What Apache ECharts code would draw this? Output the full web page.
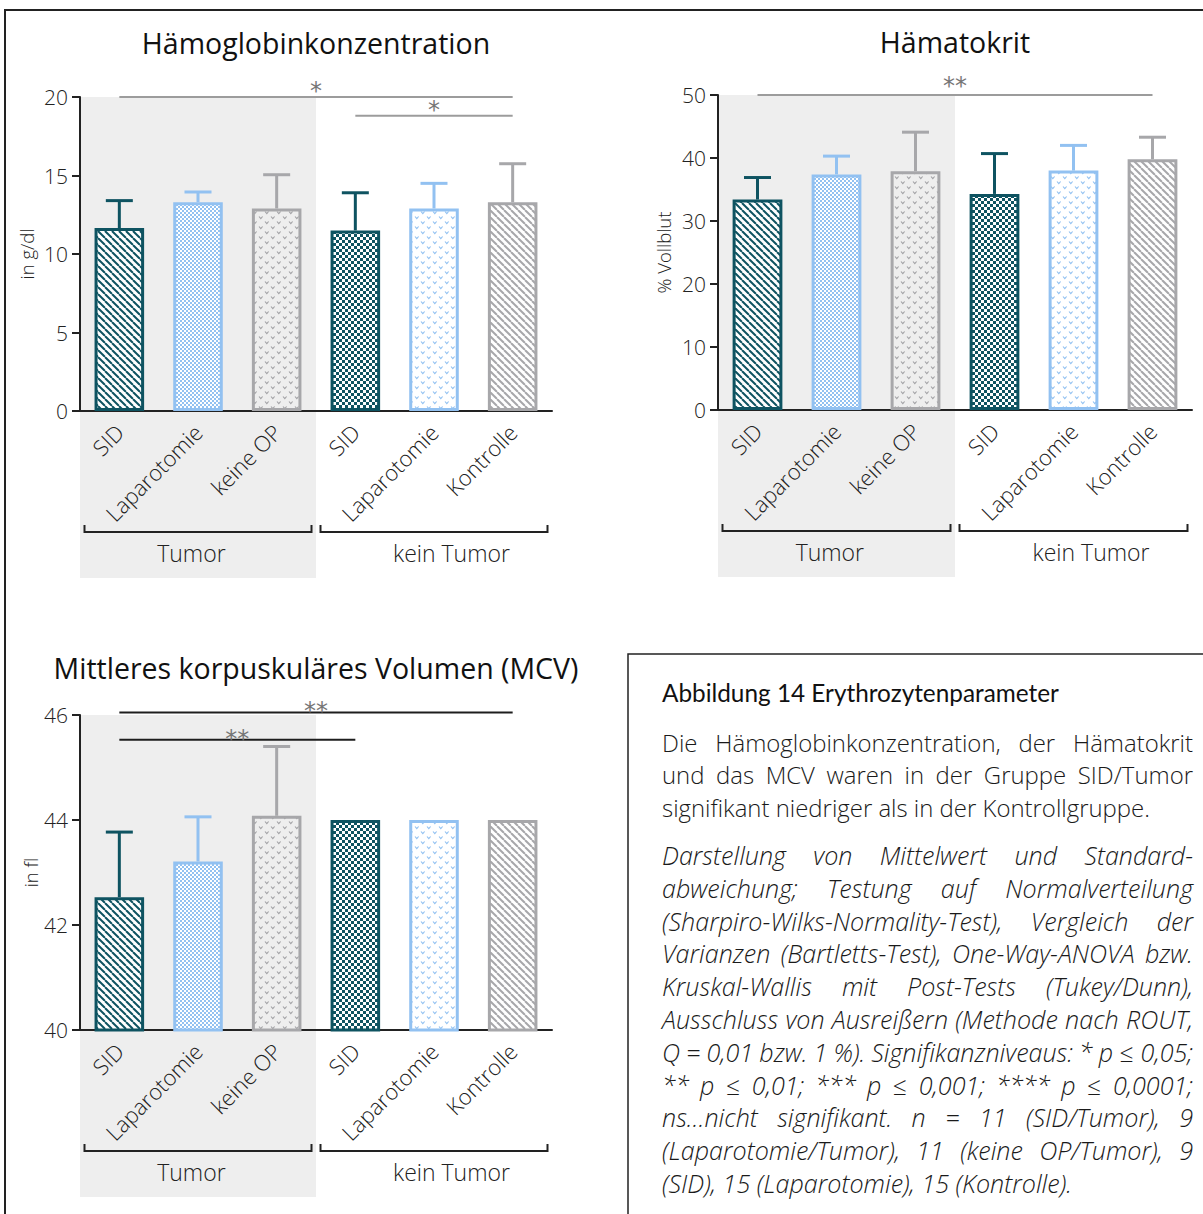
<!DOCTYPE html>
<html lang="de">
<head>
<meta charset="utf-8">
<title>Erythrozytenparameter</title>
<script src="https://cdn.jsdelivr.net/npm/echarts@6.0.0/dist/echarts.min.js"></script>
<style>
  html, body { margin: 0; padding: 0; background: #fff; }
  #chart { width: 1203px; height: 1214px; }
</style>
</head>
<body>
<div id="chart"></div>
<script>
// ---------- Daten ----------
const categories = ['SID', 'Laparotomie', 'keine OP', 'SID', 'Laparotomie', 'Kontrolle'];
const groups = ['Tumor', 'kein Tumor'];

// Hämoglobinkonzentration in g/dl (Mittelwert, Standardabweichung)
const hbMean = [11.65, 13.3, 12.9, 11.5, 12.9, 13.3];
const hbSD   = [1.75, 0.65, 2.15, 2.4, 1.6, 2.45];
const hbTicks = [0, 5, 10, 15, 20];

// Hämatokrit in % Vollblut
const hctMean = [33.4, 37.4, 37.9, 34.3, 38.0, 39.8];
const hctSD   = [3.5, 2.9, 6.2, 6.4, 4.0, 3.5];
const hctTicks = [0, 10, 20, 30, 40, 50];

// MCV in fl
const mcvMean = [42.53, 43.21, 44.08, 44.0, 44.0, 44.0];
const mcvSD   = [1.24, 0.85, 1.32, null, null, null];
const mcvTicks = [40, 42, 44, 46];

// Signifikanzbalken: [von Kategorie, bis Kategorie, Höhe, Kennzeichnung]
const hbSig  = [[0, 5, 20, '*'], [3, 5, 18.8, '*']];
const hctSig = [[0, 5, 50, '**']];
const mcvSig = [[0, 5, 46.05, '**'], [0, 3, 45.53, '**']];

// Bildunterschrift
const captionTitle = 'Abbildung 14 Erythrozytenparameter';
const captionSummary = [
  'Die Hämoglobinkonzentration, der Hämatokrit',
  'und das MCV waren in der Gruppe SID/Tumor',
  'signifikant niedriger als in der Kontrollgruppe.'
];
const captionMethods = [
  'Darstellung von Mittelwert und Standard-',
  'abweichung; Testung auf Normalverteilung',
  '(Sharpiro-Wilks-Normality-Test), Vergleich der',
  'Varianzen (Bartletts-Test), One-Way-ANOVA bzw.',
  'Kruskal-Wallis mit Post-Tests (Tukey/Dunn),',
  'Ausschluss von Ausreißern (Methode nach ROUT,',
  'Q = 0,01 bzw. 1 %). Signifikanzniveaus: * p ≤ 0,05;',
  '** p ≤ 0,01; *** p ≤ 0,001; **** p ≤ 0,0001;',
  'ns…nicht signifikant. n = 11 (SID/Tumor), 9',
  '(Laparotomie/Tumor), 11 (keine OP/Tumor), 9',
  '(SID), 15 (Laparotomie), 15 (Kontrolle).'
];

// ---------- Farben und Füllmuster ----------
const TEAL = '#0e5361';
const BLUE = '#92c1f1';
const GREY = '#a7a7aa';
const INK = '#222222';
const FONT = "'Open Sans', 'Noto Sans', sans-serif";

function tile(w, h, bg) {
  const c = document.createElement('canvas');
  c.width = w; c.height = h;
  const g = c.getContext('2d');
  if (bg) { g.fillStyle = bg; g.fillRect(0, 0, w, h); }
  return [c, g];
}
function pattern(c) {
  return { image: c, repeat: 'repeat', imageWidth: c.width, imageHeight: c.height };
}
// diagonale Schraffur (von links oben nach rechts unten)
function hatch(color, period, lw) {
  const [c, g] = tile(period, period, '#ffffff');
  g.strokeStyle = color; g.lineWidth = lw;
  [-period, 0, period].forEach(o => {
    g.beginPath(); g.moveTo(o, 0); g.lineTo(o + period, period); g.stroke();
  });
  return pattern(c);
}
// Schachbrett
function checker(color, cell, bg) {
  const [c, g] = tile(cell * 2, cell * 2, bg);
  g.fillStyle = color;
  g.fillRect(0, 0, cell, cell);
  g.fillRect(cell, cell, cell, cell);
  return pattern(c);
}
// kleine v-Zeichen, versetzt
function vmarks(color, bg) {
  const [c, g] = tile(12, 10, bg);
  g.strokeStyle = color; g.lineWidth = 1.1;
  [[1, 1.5], [7, 6.5]].forEach(([x, y]) => {
    g.beginPath(); g.moveTo(x, y); g.lineTo(x + 1.8, y + 2.2); g.lineTo(x + 3.6, y); g.stroke();
  });
  return pattern(c);
}

const barColors = [TEAL, BLUE, GREY, TEAL, BLUE, GREY];
const barFills = [
  hatch(TEAL, 7, 2),
  checker(BLUE, 2, '#ffffff'),
  vmarks('#a3a3a6', null),
  checker(TEAL, 3, '#ffffff'),
  vmarks(BLUE, null),
  hatch(GREY, 7, 2)
];

// ---------- Aufbau der drei Diagramme ----------
const panels = [
  { title: 'Hämoglobinkonzentration', unit: 'in g/dl', mean: hbMean, sd: hbSD, ticks: hbTicks, sig: hbSig,
    grid: { left: 80, top: 97, width: 472, height: 314 }, titleY: 43, nameGap: 44,
    sigColor: '#9c9c9c', starLift: 6 },
  { title: 'Hämatokrit', unit: '% Vollblut', mean: hctMean, sd: hctSD, ticks: hctTicks, sig: hctSig,
    grid: { left: 718, top: 95, width: 474, height: 315 }, titleY: 42, nameGap: 45,
    sigColor: '#9c9c9c', starLift: 9 },
  { title: 'Mittleres korpuskuläres Volumen (MCV)', unit: 'in fl', mean: mcvMean, sd: mcvSD, ticks: mcvTicks, sig: mcvSig,
    grid: { left: 80, top: 715, width: 472, height: 315 }, titleY: 668, nameGap: 40,
    sigColor: '#1e1e1e', starLift: 1 }
];

const option = {
  animation: false,
  backgroundColor: '#ffffff',
  grid: [], xAxis: [], yAxis: [], series: [], graphic: []
};

panels.forEach((p, i) => {
  const G = p.grid;
  const bottom = G.top + G.height;
  option.grid.push(Object.assign({ containLabel: false }, G));

  option.xAxis.push({
    type: 'category', gridIndex: i, data: categories,
    axisLine: { onZero: false, lineStyle: { color: INK, width: 2 } },
    axisTick: { alignWithLabel: true, length: 8, lineStyle: { color: INK, width: 2 } },
    axisLabel: { interval: 0, rotate: 45, margin: 17, fontSize: 22, fontWeight: 300,
                 fontFamily: FONT, color: INK, hideOverlap: false },
    splitLine: { show: false }
  });

  const tmin = p.ticks[0], tmax = p.ticks[p.ticks.length - 1];
  option.yAxis.push({
    type: 'value', gridIndex: i, min: tmin, max: tmax, interval: p.ticks[1] - p.ticks[0],
    name: p.unit, nameLocation: 'middle', nameGap: p.nameGap, nameRotate: 90,
    nameTextStyle: { fontSize: 18.5, fontWeight: 300, fontFamily: FONT, color: INK },
    axisLine: { show: true, lineStyle: { color: INK, width: 2 } },
    axisTick: { show: true, length: 8, lineStyle: { color: INK, width: 2 } },
    axisLabel: { margin: 12, fontSize: 21, fontWeight: 300, fontFamily: FONT, color: INK },
    splitLine: { show: false }
  });

  // Balken (Mittelwerte)
  option.series.push({
    type: 'bar', xAxisIndex: i, yAxisIndex: i, barWidth: '63%', z: 3,
    data: p.mean.map((v, k) => ({
      value: v,
      itemStyle: { color: barFills[k], borderColor: barColors[k], borderWidth: 3 }
    }))
  });

  // Fehlerbalken (nur nach oben: Mittelwert + SD)
  option.series.push({
    type: 'custom', xAxisIndex: i, yAxisIndex: i, z: 4,
    encode: { x: 0, y: [1, 2] },
    data: p.mean.map((v, k) => p.sd[k] == null ? null : [k, v, v + p.sd[k]]).filter(d => d),
    renderItem: (params, api) => {
      const k = api.value(0);
      const a = api.coord([k, api.value(1)]);
      const b = api.coord([k, api.value(2)]);
      const col = barColors[k];
      const half = 13.5;
      return { type: 'group', children: [
        { type: 'line', shape: { x1: a[0], y1: a[1], x2: b[0], y2: b[1] }, style: { stroke: col, lineWidth: 3 } },
        { type: 'line', shape: { x1: b[0] - half, y1: b[1], x2: b[0] + half, y2: b[1] }, style: { stroke: col, lineWidth: 3 } }
      ] };
    }
  });

  // Signifikanzbalken mit Sternchen
  option.series.push({
    type: 'custom', xAxisIndex: i, yAxisIndex: i, z: 5, clip: false,
    encode: { x: [0, 1], y: 2 },
    data: p.sig.map(s => [s[0], s[1], s[2]]),
    renderItem: (params, api) => {
      const a = api.coord([api.value(0), api.value(2)]);
      const b = api.coord([api.value(1), api.value(2)]);
      const mark = p.sig[params.dataIndex][3];
      return { type: 'group', children: [
        { type: 'line', shape: { x1: a[0], y1: a[1], x2: b[0], y2: b[1] },
          style: { stroke: p.sigColor, lineWidth: 2 } },
        { type: 'text', x: (a[0] + b[0]) / 2, y: a[1] - p.starLift,
          style: { text: mark, fill: '#767676', fontSize: 24, fontFamily: "'DejaVu Sans', sans-serif",
                   align: 'center', verticalAlign: 'middle', textAlign: 'center', textVerticalAlign: 'middle' } }
      ] };
    }
  });

  // grau hinterlegter Bereich "Tumor"
  option.graphic.push({
    type: 'rect', z: -10, silent: true,
    shape: { x: G.left, y: G.top, width: G.width / 2, height: bottom - G.top + 167 },
    style: { fill: '#eeeeee' }
  });

  // Titel
  option.graphic.push({
    type: 'text', x: G.left + G.width / 2, y: p.titleY, z: 10,
    style: { text: p.title, fill: '#111111', fontSize: 28.5, fontFamily: FONT,
             align: 'center', verticalAlign: 'middle', textAlign: 'center', textVerticalAlign: 'middle' }
  });

  // Gruppenklammern und -beschriftung
  const by = bottom + 121;
  const labelPos = [0.236, 0.787];
  groups.forEach((name, h) => {
    const x0 = G.left + h * G.width / 2 + 4.5;
    const x1 = G.left + (h + 1) * G.width / 2 - 4.5;
    option.graphic.push({
      type: 'polyline', z: 10, silent: true,
      shape: { points: [[x0, by - 7], [x0, by], [x1, by], [x1, by - 7]] },
      style: { stroke: INK, lineWidth: 2, fill: null }
    });
    option.graphic.push({
      type: 'text', x: G.left + labelPos[h] * G.width, y: by + 21, z: 10,
      style: { text: name, fill: INK, fontSize: 23, fontWeight: 300, fontFamily: FONT,
               align: 'center', verticalAlign: 'middle', textAlign: 'center', textVerticalAlign: 'middle' }
    });
  });
});

// Rahmenlinien
option.graphic.push({
  type: 'polyline', z: 10, silent: true,
  shape: { points: [[5, 1214], [5, 10], [1203, 10]] },
  style: { stroke: INK, lineWidth: 2, fill: null }
});
option.graphic.push({
  type: 'rect', z: 10, silent: true,
  shape: { x: 628, y: 654, width: 600, height: 600 },
  style: { stroke: INK, lineWidth: 1.5, fill: null }
});

// ---------- Bildunterschrift im Blocksatz ----------
const measureCtx = document.createElement('canvas').getContext('2d');
function fontString(f) { return `${f.style} ${f.weight} ${f.size}px ${f.family}`; }
function textWidth(str, f) {
  measureCtx.font = fontString(f);
  return measureCtx.measureText(str).width;
}
// Schriftgröße so wählen, dass eine Zeile die gewünschte Breite erhält
function fitSize(f, line, targetWidth) {
  const w = textWidth(line, f);
  return Object.assign({}, f, { size: +(f.size * targetWidth / w).toFixed(2) });
}
function justified(lines, x, y0, lineH, width, f) {
  const out = [];
  lines.forEach((line, i) => {
    const y = y0 + i * lineH;
    const words = line.split(' ');
    const last = i === lines.length - 1;
    const total = words.reduce((s, w) => s + textWidth(w, f), 0);
    const gap = (last || words.length < 2) ? textWidth(' ', f) : (width - total) / (words.length - 1);
    let cx = x;
    words.forEach(w => {
      out.push({
        type: 'text', x: cx, y: y, z: 10,
        style: { text: w, fill: '#1a1a1a', fontSize: f.size, fontWeight: f.weight, fontStyle: f.style,
                 fontFamily: f.family, align: 'left', verticalAlign: 'middle',
                 textAlign: 'left', textVerticalAlign: 'middle' }
      });
      cx += textWidth(w, f) + gap;
    });
  });
  return out;
}

const CAP_X = 662, CAP_W = 531;
const titleFont = fitSize({ style: 'normal', weight: 400, size: 22, family: 'Lato' }, captionTitle, 397);
const summaryFont = fitSize({ style: 'normal', weight: 300, size: 22, family: "'Open Sans'" },
  captionSummary[captionSummary.length - 1], 488);
const methodsFont = fitSize({ style: 'italic', weight: 300, size: 22, family: "'Open Sans'" },
  captionMethods[captionMethods.length - 1], 410);

option.graphic.push({
  type: 'text', x: CAP_X, y: 692, z: 10,
  style: { text: captionTitle, fill: '#111111', fontSize: titleFont.size, fontFamily: titleFont.family,
           fontWeight: titleFont.weight, align: 'left', verticalAlign: 'middle',
           textAlign: 'left', textVerticalAlign: 'middle' }
});
justified(captionSummary, CAP_X, 742, 32.8, CAP_W, summaryFont).forEach(e => option.graphic.push(e));
justified(captionMethods, CAP_X, 855, 32.8, CAP_W, methodsFont).forEach(e => option.graphic.push(e));

const chart = echarts.init(document.getElementById('chart'), null, { renderer: 'svg', width: 1203, height: 1214 });
chart.setOption(option);
</script>
</body>
</html>
